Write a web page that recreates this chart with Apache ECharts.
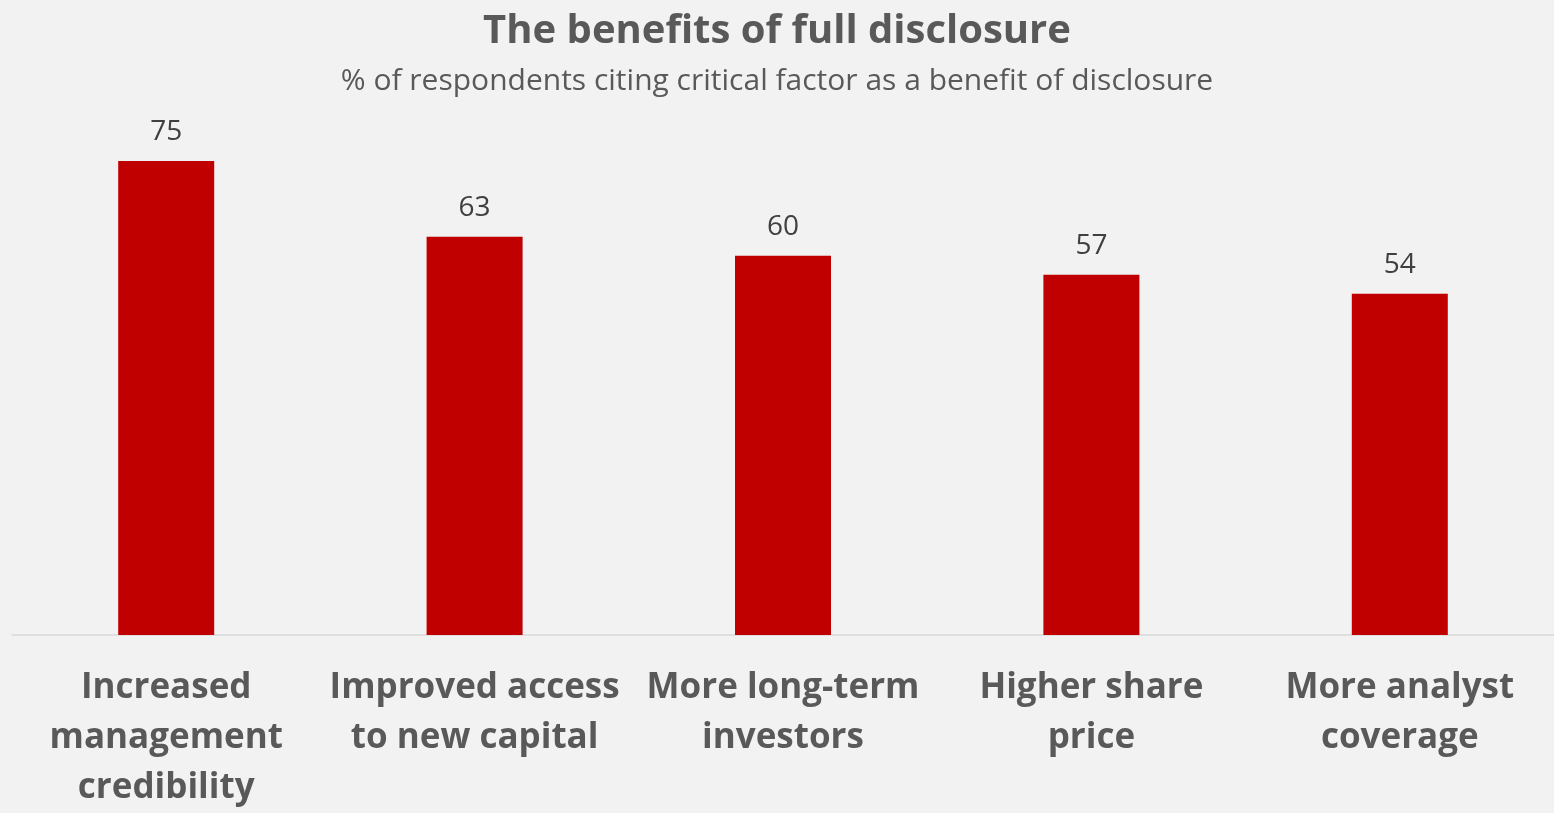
<!DOCTYPE html>
<html>
<head>
<meta charset="utf-8">
<title>The benefits of full disclosure</title>
<script src="https://cdn.jsdelivr.net/npm/echarts@6/dist/echarts.min.js"></script>
<style>
  html, body { margin: 0; padding: 0; background: #f2f2f2; overflow: hidden; }
  #chart { width: 1554px; height: 813px; }
</style>
</head>
<body>
<div id="chart"></div>
<script>
// Benefits cited, with line breaks as shown under the axis
const categories = [
  'Increased\nmanagement\ncredibility',
  'Improved access\nto new capital',
  'More long-term\ninvestors',
  'Higher share\nprice',
  'More analyst\ncoverage'
];
// % of respondents citing each factor
const values = [75, 63, 60, 57, 54];

const titleText = 'The benefits of full disclosure';
const subtitleText = '% of respondents citing critical factor as a benefit of disclosure';

const FONT = '"Open Sans", "Noto Sans", "DejaVu Sans", sans-serif';

const chart = echarts.init(document.getElementById('chart'), null, { renderer: 'canvas' });

chart.setOption({
  backgroundColor: '#f2f2f2',
  animation: false,
  title: [
    {
      text: titleText,
      left: 'center',
      top: 4,
      textStyle: { fontFamily: FONT, fontSize: 40, fontWeight: 'bold', color: '#595959', lineHeight: 46 }
    },
    {
      text: subtitleText,
      left: 'center',
      top: 58,
      textStyle: { fontFamily: FONT, fontSize: 30, fontWeight: 'normal', color: '#595959', lineHeight: 36 }
    }
  ],
  grid: { left: 12, right: 0, top: 129.33, bottom: 177, containLabel: false },
  xAxis: {
    type: 'category',
    data: categories,
    axisLine: { show: true, lineStyle: { color: '#d9d9d9', width: 1.5 } },
    axisTick: { show: false },
    axisLabel: {
      interval: 0,
      margin: 28,
      fontFamily: FONT,
      fontSize: 35,
      fontWeight: 'bold',
      color: '#595959',
      lineHeight: 50
    }
  },
  yAxis: {
    type: 'value',
    min: 0,
    max: 80,
    show: false,
    splitLine: { show: false }
  },
  series: [{
    type: 'bar',
    data: values,
    barWidth: 96,
    itemStyle: { color: '#c00000' },
    label: {
      show: true,
      position: 'top',
      distance: 15,
      fontFamily: FONT,
      fontSize: 28,
      lineHeight: 28,
      color: '#404040'
    }
  }]
});
</script>
</body>
</html>
